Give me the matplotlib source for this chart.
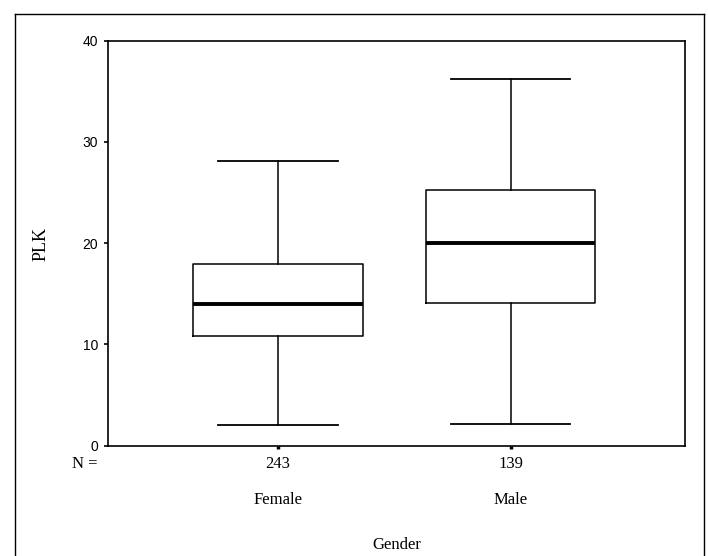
import matplotlib
matplotlib.use("Agg")
import matplotlib.pyplot as plt
from matplotlib.lines import Line2D

# Summary statistics of PLK by gender
groups = ["Female", "Male"]
n_counts = [243, 139]
whisker_low = [2.0, 2.1]
q1 = [10.8, 14.05]
median = [13.95, 20.0]
q3 = [17.9, 25.2]
whisker_high = [28.1, 36.2]
y_ticks = [0, 10, 20, 30, 40]

W, H = 708, 556
fig = plt.figure(figsize=(W / 100, H / 100), dpi=100)
fig.patch.set_facecolor("white")

ax = fig.add_axes([108 / W, 1 - 445.5 / H, (685 - 108) / W, (445.5 - 40.7) / H])

stats = []
for i, g in enumerate(groups):
    stats.append(dict(label=g, whislo=whisker_low[i], q1=q1[i], med=median[i],
                      q3=q3[i], whishi=whisker_high[i], fliers=[]))

positions = [1, 2]
ax.bxp(stats, positions=positions, widths=0.73, showfliers=False,
       boxprops=dict(color="black", linewidth=1.1),
       whiskerprops=dict(color="black", linewidth=1.1),
       capprops=dict(color="black", linewidth=1.3),
       medianprops=dict(color="black", linewidth=2.8, solid_capstyle="butt"),
       capwidths=0.515)

ax.set_xlim(0.27, 2.75)
ax.set_ylim(0, 40)
ax.set_yticks(y_ticks)
ax.set_yticklabels([str(v) for v in y_ticks], fontfamily="Liberation Sans", fontsize=10)
ax.tick_params(axis="y", direction="out", length=3, width=1.2, pad=4)
ax.set_xticks(positions)
ax.set_xticklabels([])
ax.tick_params(axis="x", direction="out", length=2, width=2.5)
for s in ax.spines.values():
    s.set_linewidth(1.2)

serif = "Liberation Serif"
# N row and group labels below the axis
ax.text(-0.04, -0.045, "N =", transform=ax.transAxes, ha="center", va="center",
        fontfamily=serif, fontsize=12)
for p, n, g in zip(positions, n_counts, groups):
    ax.annotate(str(n), xy=(p, 0), xycoords=("data", "axes fraction"),
                xytext=(0, -18), textcoords="offset pixels",
                ha="center", va="center", fontfamily=serif, fontsize=12)
    ax.annotate(g, xy=(p, 0), xycoords=("data", "axes fraction"),
                xytext=(0, -55), textcoords="offset pixels",
                ha="center", va="center", fontfamily=serif, fontsize=12)

fig.text(397 / W, 1 - 545 / H, "Gender", ha="center", va="center",
         fontfamily=serif, fontsize=12)
fig.text(41 / W, 1 - 244 / H, "PLK", ha="center", va="center", rotation=90,
         fontfamily=serif, fontsize=13)

# Outer frame around the whole chart
lx, rx, ty = 15 / W, 704 / W, 1 - 14 / H
for xs, ys in [([lx, lx], [0, ty]), ([lx, rx], [ty, ty]), ([rx, rx], [ty, 0])]:
    fig.add_artist(Line2D(xs, ys, transform=fig.transFigure, color="black", linewidth=1.0))

fig.savefig("out.png", dpi=100)
